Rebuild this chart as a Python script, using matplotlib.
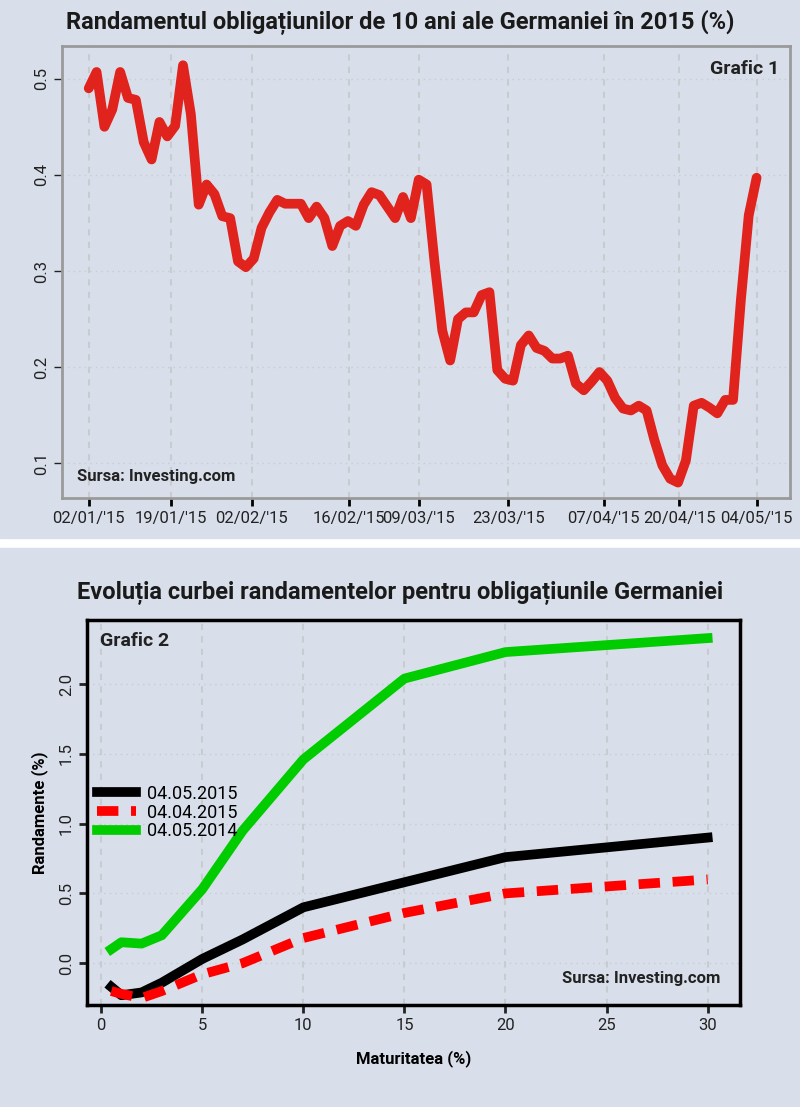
import matplotlib
matplotlib.use("Agg")
import matplotlib.pyplot as plt
import numpy as np
from matplotlib.patches import Rectangle

plt.rcParams["font.family"] = ["Roboto", "DejaVu Sans"]

# Chart 1 data: 10y German yield, trading days 02/01/2015 .. 04/05/2015
yield10 = [0.49, 0.507, 0.45, 0.468, 0.507, 0.48, 0.478, 0.434, 0.416, 0.455, 0.44, 0.451,
           0.514, 0.463, 0.369, 0.39, 0.38, 0.357, 0.355, 0.31, 0.304, 0.313, 0.345, 0.361,
           0.374, 0.37, 0.37, 0.37, 0.355, 0.367, 0.355, 0.326, 0.347, 0.352, 0.347, 0.369,
           0.382, 0.379, 0.367, 0.355, 0.377, 0.355, 0.395, 0.39, 0.31, 0.238, 0.207, 0.25,
           0.257, 0.257, 0.275, 0.278, 0.197, 0.188, 0.186, 0.223, 0.233, 0.22, 0.217, 0.209,
           0.209, 0.212, 0.183, 0.176, 0.185, 0.195, 0.186, 0.168, 0.157, 0.155, 0.16, 0.155,
           0.124, 0.098, 0.084, 0.08, 0.103, 0.16, 0.163, 0.158, 0.152, 0.166, 0.166, 0.27,
           0.358, 0.397]
date_labels = ["02/01/'15", "19/01/'15", "02/02/'15", "16/02/'15", "09/03/'15",
               "23/03/'15", "07/04/'15", "20/04/'15", "04/05/'15"]
date_frac = [0.0, 0.1235, 0.244, 0.39, 0.494, 0.628, 0.771, 0.884, 1.0]

# Chart 2 data: yield curves
maturity = [0.5, 1, 2, 3, 5, 7, 10, 15, 20, 30]
y_20150504 = [-0.17, -0.23, -0.21, -0.14, 0.03, 0.17, 0.40, 0.58, 0.76, 0.90]
y_20150404 = [-0.20, -0.22, -0.25, -0.20, -0.08, 0.00, 0.18, 0.36, 0.50, 0.60]
y_20140504 = [0.10, 0.15, 0.14, 0.20, 0.53, 0.95, 1.46, 2.04, 2.23, 2.33]

W, H = 800, 1107
fig = plt.figure(figsize=(8, 11.07), dpi=100, facecolor="white")
bg = "#d9dfea"
fig.add_artist(Rectangle((0, 1 - 538 / H), 1, 538 / H, transform=fig.transFigure, color=bg, zorder=-10))
fig.add_artist(Rectangle((0, 0), 1, 1 - 548 / H, transform=fig.transFigure, color=bg, zorder=-10))

def ax_at(l, r, t, b):
    return fig.add_axes([l / W, 1 - b / H, (r - l) / W, (b - t) / H])

# ---- Chart 1
ax1 = ax_at(62, 790, 46, 498)
ax1.set_facecolor(bg)
n = len(yield10)
x = np.arange(n)
ax1.plot(x, yield10, color="#e0231c", lw=7, solid_joinstyle="round", solid_capstyle="round")
span = n - 1
ax1.set_xlim(-0.04 * span, 1.05 * span)
ax1.set_ylim(0.064, 0.534)
xt = [f * span for f in date_frac]
ax1.set_xticks(xt)
ax1.set_xticklabels(date_labels, fontsize=12)
ax1.set_yticks([0.1, 0.2, 0.3, 0.4, 0.5])
ax1.set_yticklabels(["0.1", "0.2", "0.3", "0.4", "0.5"], rotation=90, va="center", fontsize=12)
for v in xt:
    ax1.axvline(v, color="#c8ccd0", ls=(0, (3, 3)), lw=1.5, zorder=0)
for v in [0.1, 0.2, 0.3, 0.4, 0.5]:
    ax1.axhline(v, color="#c8ccd0", ls=(0, (1, 3)), lw=1, zorder=0)
for s in ax1.spines.values():
    s.set_color("#9a9a9a"); s.set_linewidth(2)
ax1.tick_params(axis="x", length=6, width=2, color="black", labelcolor="#222222")
ax1.tick_params(axis="y", length=6, width=1, colors="#222222")
ax1.text(0.985, 0.97, "Grafic 1", transform=ax1.transAxes, ha="right", va="top",
         fontsize=14, fontweight="bold", color="#222222")
ax1.text(0.02, 0.03, "Sursa: Investing.com", transform=ax1.transAxes, ha="left", va="bottom",
         fontsize=12, fontweight="bold", color="#222222")
fig.text(0.5, 1 - 22 / H, "Randamentul obligațiunilor de 10 ani ale Germaniei în 2015 (%)",
         ha="center", va="center", fontsize=17, fontweight="bold", color="#1a1a1a")

# ---- Chart 2
ax2 = ax_at(87, 740, 620, 1005)
ax2.set_facecolor(bg)
ax2.plot(maturity, y_20150504, color="black", lw=7, label="04.05.2015", solid_joinstyle="round")
ax2.plot(maturity, y_20150404, color="#ff0000", lw=7, ls=(0, (2.2, 1.3)), label="04.04.2015")
ax2.plot(maturity, y_20140504, color="#00cc00", lw=7, label="04.05.2014", solid_joinstyle="round")
ax2.set_xlim(-0.7, 31.6)
ax2.set_ylim(-0.3, 2.46)
ax2.set_xticks([0, 5, 10, 15, 20, 25, 30])
ax2.set_xticklabels(["0", "5", "10", "15", "20", "25", "30"], fontsize=12)
ax2.set_yticks([0, 0.5, 1.0, 1.5, 2.0])
ax2.set_yticklabels(["0.0", "0.5", "1.0", "1.5", "2.0"], rotation=90, va="center", fontsize=12)
for v in [0, 5, 10, 15, 20, 25, 30]:
    ax2.axvline(v, color="#c8ccd0", ls=(0, (3, 3)), lw=1.5, zorder=0)
for v in [0, 0.5, 1.0, 1.5, 2.0]:
    ax2.axhline(v, color="#c8ccd0", ls=(0, (1, 3)), lw=1, zorder=0)
for s in ax2.spines.values():
    s.set_color("black"); s.set_linewidth(2.5)
ax2.tick_params(length=6, width=2, colors="#222222")
ax2.set_xlabel("Maturitatea (%)", fontsize=12, fontweight="bold", labelpad=12)
ax2.set_ylabel("Randamente (%)", fontsize=12, fontweight="bold", labelpad=8)
ax2.legend(loc="center left", bbox_to_anchor=(-0.01, 0.5), frameon=False, fontsize=13,
           handlelength=2.2, labelspacing=0.05, handletextpad=0.6)
ax2.text(0.02, 0.97, "Grafic 2", transform=ax2.transAxes, ha="left", va="top",
         fontsize=14, fontweight="bold", color="#222222")
ax2.text(0.97, 0.05, "Sursa: Investing.com", transform=ax2.transAxes, ha="right", va="bottom",
         fontsize=12, fontweight="bold", color="#222222")
fig.text(0.5, 1 - 593 / H, "Evoluția curbei randamentelor pentru obligațiunile Germaniei",
         ha="center", va="center", fontsize=17, fontweight="bold", color="#1a1a1a")

fig.savefig("out.png", dpi=100, facecolor="white")
